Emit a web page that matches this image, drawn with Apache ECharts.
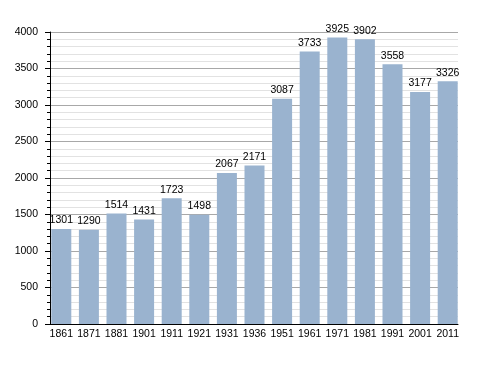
<!DOCTYPE html>
<html><head><meta charset="utf-8">
<script src="https://cdn.jsdelivr.net/npm/echarts@6/dist/echarts.min.js"></script>
<style>html,body{margin:0;padding:0;background:#fff}#c{width:488px;height:373px}</style>
</head><body><div id="c"></div>
<script>
const years = ['1861','1871','1881','1901','1911','1921','1931','1936','1951','1961','1971','1981','1991','2001','2011'];
const population = [1301,1290,1514,1431,1723,1498,2067,2171,3087,3733,3925,3902,3558,3177,3326];
const yTicks = [0,500,1000,1500,2000,2500,3000,3500,4000];

const chart = echarts.init(document.getElementById('c'));
const font = 'Liberation Sans, Arial, sans-serif';
chart.setOption({
  animation: false,
  grid: [
    {left: 50, top: 32, width: 408, height: 292},
    {left: 47.5, top: 32, width: 414, height: 292}
  ],
  xAxis: [
    {gridIndex: 0, type: 'value', min: 0, max: 1, axisLine: {show: true, onZero: false, lineStyle: {color: '#000', width: 1}},
     axisTick: {show: false}, axisLabel: {show: false}, splitLine: {show: false}},
    {gridIndex: 1, type: 'category', data: years, axisLine: {show: false}, axisTick: {show: false},
     axisLabel: {color: '#000', fontSize: 10.5, fontFamily: font, margin: 5, interval: 0}}
  ],
  yAxis: [
    {gridIndex: 0, type: 'value', min: yTicks[0], max: yTicks[yTicks.length-1], interval: 500,
     axisLine: {show: true, lineStyle: {color: '#000'}},
     axisTick: {show: true, length: 5, lineStyle: {color: '#000'}},
     minorTick: {show: true, splitNumber: 5, length: 3, lineStyle: {color: '#000'}},
     axisLabel: {color: '#000', fontSize: 10.5, fontFamily: font, margin: 12, formatter: v => String(v)},
     splitLine: {show: true, lineStyle: {color: '#a8a8a8', width: 1}},
     minorSplitLine: {show: true, lineStyle: {color: '#e2e2e2', width: 1}}},
    {gridIndex: 1, type: 'value', min: yTicks[0], max: yTicks[yTicks.length-1], show: false}
  ],
  series: [{
    type: 'bar', xAxisIndex: 1, yAxisIndex: 1, data: population, barWidth: 20,
    itemStyle: {color: '#9ab3cf'},
    label: {show: true, position: 'top', color: '#000', fontSize: 10.5, fontFamily: font, distance: 3}
  }]
});
</script></body></html>
